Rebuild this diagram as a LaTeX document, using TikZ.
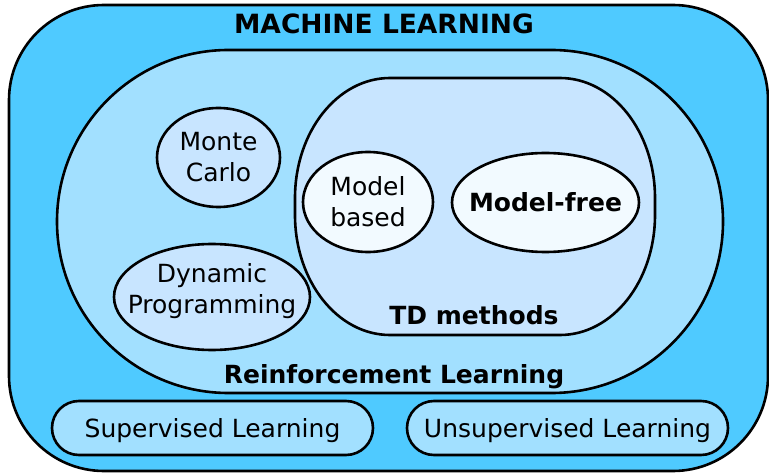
\documentclass[tikz,border=0pt]{standalone}
\usepackage{fontspec}
\setmainfont{DejaVu Sans}
\usetikzlibrary{shapes.geometric,shapes.misc}

\definecolor{mlblue}{HTML}{4FCAFF}
\definecolor{rlblue}{HTML}{A2E0FF}
\definecolor{tdblue}{HTML}{C8E5FF}
\definecolor{paleblue}{HTML}{F2FAFF}

\tikzset{
  edge/.style={draw=black, line width=2.6pt},
  txt/.style={font=\fontsize{25}{31}\selectfont, text=black, align=center, inner sep=0pt},
  bold/.style={txt, font=\fontsize{25}{31}\selectfont\bfseries},
  blob/.style={edge, ellipse, inner sep=0pt},
  pill/.style={edge, rounded rectangle, inner sep=0pt, fill=rlblue},
}

\begin{document}
\begin{tikzpicture}[x=1pt, y=-1pt]
  \useasboundingbox (0,0) rectangle (769,473);

  % outer field
  \node[edge, fill=mlblue, rectangle, rounded corners=95pt,
        minimum width=759pt, minimum height=466pt, inner sep=0pt] (ml) at (388.5,238) {};
  \node[bold, font=\fontsize{26.5}{31}\selectfont\bfseries, anchor=base] (mltitle) at (384,33.5) {MACHINE LEARNING};

  % reinforcement learning
  \node[edge, fill=rlblue, rounded rectangle, inner sep=0pt,
        minimum width=666pt, minimum height=343pt] (rl) at (390,221.5) {};
  \node[bold, anchor=base] (rltitle) at (394,383) {Reinforcement Learning};

  % TD methods: rectangle with elliptical corners
  \coordinate (td) at (475,206.5);
  \draw[edge, fill=tdblue]
    (390,78) -- (560,78)
    arc[start angle=-90, end angle=0, x radius=95, y radius=120] -- (655,215)
    arc[start angle=0, end angle=90, x radius=95, y radius=120] -- (390,335)
    arc[start angle=90, end angle=180, x radius=95, y radius=120] -- (295,198)
    arc[start angle=180, end angle=270, x radius=95, y radius=120] -- cycle;
  \node[bold, anchor=base] (tdtitle) at (474,325) {TD methods};

  % methods inside RL
  \node[blob, fill=tdblue, minimum width=123pt, minimum height=99pt] (mc) at (218.5,157.5) {};
  \node[txt] (mctext) at (mc.center) {Monte\\Carlo};
  \node[blob, fill=tdblue, minimum width=196pt, minimum height=106pt] (dp) at (212,297) {};
  \node[txt] (dptext) at (212,291.5) {Dynamic\\Programming};

  % inside TD
  \node[blob, fill=paleblue, minimum width=130pt, minimum height=100pt] (mb) at (368,202) {};
  \node[txt] (mbtext) at (368,201.5) {Model\\based};
  \node[blob, fill=paleblue, minimum width=187pt, minimum height=99pt] (mf) at (545.5,202.5) {};
  \node[bold] (mftext) at (mf.center) {Model-free};

  % other learning types
  \node[pill, minimum width=321pt, minimum height=54pt] (sl) at (212.5,428) {};
  \node[txt] (sltext) at (212.5,430.5) {Supervised Learning};
  \node[pill, minimum width=321pt, minimum height=54pt] (ul) at (567.5,428) {};
  \node[txt] (ultext) at (567.5,430.5) {Unsupervised Learning};
\end{tikzpicture}
\end{document}
